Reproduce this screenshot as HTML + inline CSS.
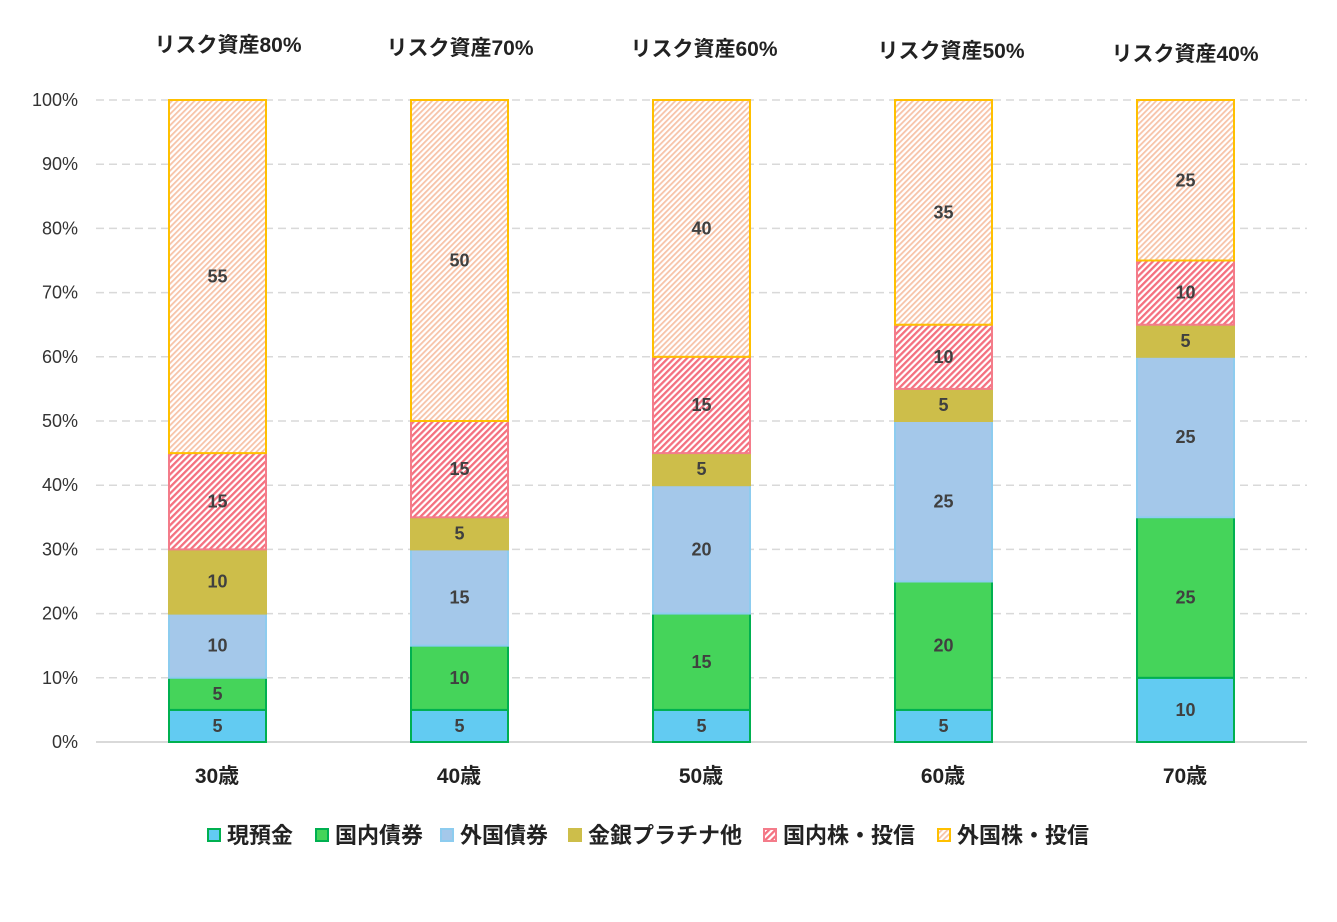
<!DOCTYPE html>
<html><head><meta charset="utf-8"><style>
body{margin:0;background:#fff}
svg{display:block;font-family:"Liberation Sans","Noto Sans CJK JP",sans-serif}
</style></head><body>
<svg id="s" width="1337" height="922" viewBox="0 0 1337 922">
<defs>
<pattern id="pk" width="4.5" height="4.5" patternUnits="userSpaceOnUse" patternTransform="rotate(45)">
<rect width="4.5" height="4.5" fill="#fff"/><rect width="2.3" height="4.5" fill="#F4707F"/></pattern>
<pattern id="or" width="4" height="4" patternUnits="userSpaceOnUse" patternTransform="rotate(45)">
<rect width="4" height="4" fill="#fff"/><rect width="1.8" height="4" fill="#F7C3A8"/></pattern>
</defs>
</svg>
<script>
const s=document.getElementById('s');const N='http://www.w3.org/2000/svg';
function el(t,a,txt){const e=document.createElementNS(N,t);for(const k in a)e.setAttribute(k,a[k]);if(txt!=null)e.textContent=txt;s.appendChild(e);return e;}
const Y=p=>742-6.42*p;
for(let i=0;i<=10;i++){const y=Y(i*10);
 if(i>0)el('line',{x1:96,x2:1307,y1:y,y2:y,stroke:'#d9d9d9','stroke-width':1.5,'stroke-dasharray':'8,5'});
 el('text',{x:78,y:y+6,'text-anchor':'end','font-size':18,fill:'#333'},i*10+'%');}
el('line',{x1:96,x2:1307,y1:742,y2:742,stroke:'#d9d9d9','stroke-width':2});
const D=[[5,5,10,10,15,55],[5,10,15,5,15,50],[5,15,20,5,15,40],[5,20,25,5,10,35],[10,25,25,5,10,25]];
const F=['#62CBF2','#45D45A','#A4C8EA','#CDBE4A','url(#pk)','url(#or)'];
const S=['#00B050','#00B050','#8DCCEF','#CDBE4A','#F47C8A','#FFC000'];
const ages=['30歳','40歳','50歳','60歳','70歳'];
const tt=['リスク資産80%','リスク資産70%','リスク資産60%','リスク資産50%','リスク資産40%'];
const tx=[228,460,704,951,1185],ty=[52,55,56,58,61];
D.forEach((d,i)=>{const x=169+242*i;let c=0;
 d.forEach((v,j)=>{const y1=Y(c),y2=Y(c+v);
  el('rect',{x:x,y:y2,width:97,height:y1-y2,fill:F[j],stroke:S[j],'stroke-width':2});
  el('text',{x:x+48.5,y:(y1+y2)/2+6,'text-anchor':'middle','font-size':18,'font-weight':'bold',fill:'#404040'},v);
  c+=v;});
 el('text',{x:x+48,y:783,'text-anchor':'middle','font-size':21,'font-weight':'bold',fill:'#222'},ages[i]);
 el('text',{x:tx[i],y:ty[i],'text-anchor':'middle','font-size':21,'font-weight':'bold',fill:'#222'},tt[i]);
});
const L=['現預金','国内債券','外国債券','金銀プラチナ他','国内株・投信','外国株・投信'];
const lx=[208,316,441,569,764,938];
L.forEach((t,j)=>{el('rect',{x:lx[j],y:829,width:12,height:12,fill:F[j],stroke:S[j],'stroke-width':2});
 el('text',{x:lx[j]+19,y:843,'font-size':22,'font-weight':'bold',fill:'#222'},t);});
</script>
</body></html>
